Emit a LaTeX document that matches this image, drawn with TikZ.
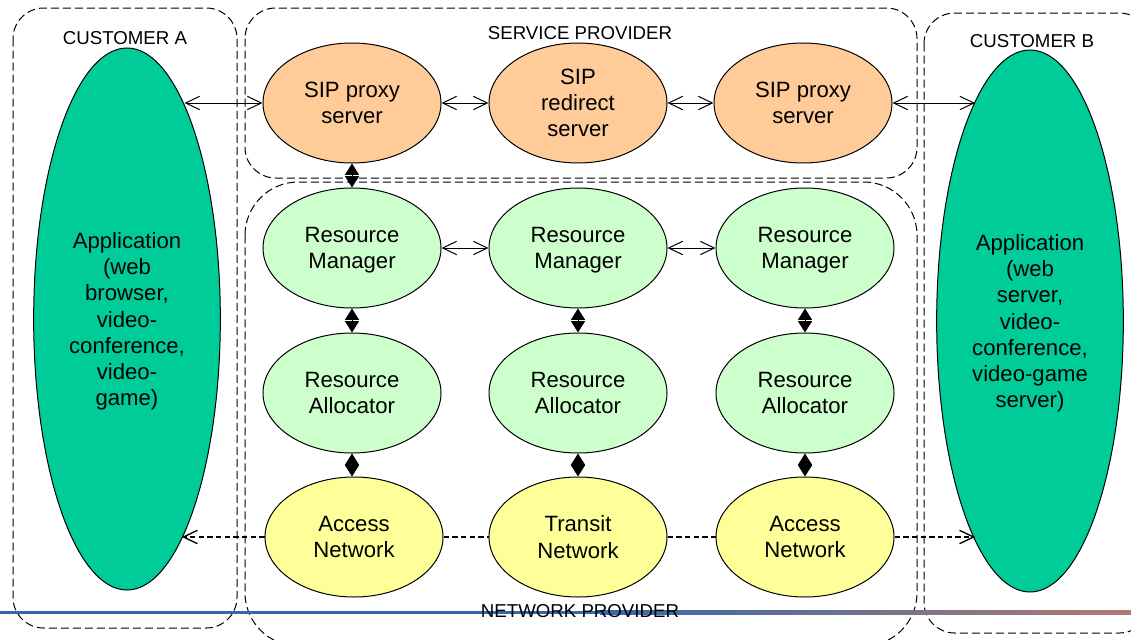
\documentclass[tikz,border=0pt]{standalone}
\usepackage{fontspec}
\setmainfont{Liberation Sans}
\usetikzlibrary{shapes.geometric,arrows.meta}

\definecolor{appgreen}{RGB}{0,204,153}
\definecolor{sipfill}{RGB}{255,204,153}
\definecolor{rmfill}{RGB}{204,255,204}
\definecolor{netfill}{RGB}{255,255,153}
\definecolor{lineblue}{RGB}{52,104,172}
\definecolor{linebrown}{RGB}{178,122,112}

\tikzset{
  region/.style={draw=black, line width=0.75pt, dash pattern=on 6pt off 3pt, rounded corners=23pt},
  bubble/.style={ellipse, draw=black, line width=0.75pt, inner sep=0pt, align=center,
                 minimum width=133.5pt, minimum height=90pt, text depth=-1.5pt,
                 font=\fontsize{16.6}{19.6}\selectfont},
  sipnode/.style={bubble, fill=sipfill},
  rmnode/.style={bubble, fill=rmfill},
  netnode/.style={bubble, fill=netfill},
  appnode/.style={bubble, fill=appgreen, minimum width=140pt, minimum height=406.5pt},
  lbl/.style={inner sep=0pt, font=\fontsize{14}{16}\selectfont},
  openarrow/.style={line width=0.75pt, {Straight Barb[length=10.5pt,width=10pt]}-{Straight Barb[length=10.5pt,width=10pt]}},
  fillarrow/.style={line width=0.75pt, {Triangle[length=8.5pt,width=10.5pt]}-{Triangle[length=8.5pt,width=10.5pt]}},
  dashline/.style={line width=1pt, dash pattern=on 4pt off 2.5pt},
  dashtip/.style={dashline, -{Straight Barb[length=10.5pt,width=10pt]}}
}

\begin{document}
\begin{tikzpicture}[x=0.75pt,y=-0.75pt]
\useasboundingbox (0,0) rectangle (1131,639);

% domain outlines
\draw[region] (13,8) rectangle (237,628);
\draw[region] (245,8) rectangle (917,178);
\draw[region, rounded corners=40pt] (245,182) rectangle (917,646);
\draw[region] (924,13) rectangle (1150,633);

% rule along the foot of the page
\fill[lineblue] (0,610.5) rectangle (602,614);
\shade[left color=lineblue, right color=linebrown] (600,610.5) rectangle (1131,614);

% domain titles
\node[lbl] (labA) at (125,38) {CUSTOMER A};
\node[lbl] (labSP) at (580,33) {SERVICE PROVIDER};
\node[lbl] (labB) at (1032,41) {CUSTOMER B};
\node[lbl] (labNP) at (580,611) {NETWORK PROVIDER};

% end-user applications
\node[appnode] (custA) at (127,319) {Application\\(web\\browser,\\video-\\conference,\\video-\\game)};
\node[appnode] (custB) at (1030,321) {Application\\(web\\server,\\video-\\conference,\\video-game\\server)};

% signalling servers
\node[sipnode] (sipA) at (352,103) {SIP proxy\\server};
\node[sipnode] (sipR) at (578,103) {SIP\\redirect\\server};
\node[sipnode] (sipB) at (803,103) {SIP proxy\\server};

% resource managers
\node[rmnode] (rmA) at (352,248) {Resource\\Manager};
\node[rmnode] (rmM) at (578,248) {Resource\\Manager};
\node[rmnode] (rmB) at (805,248) {Resource\\Manager};

% resource allocators
\node[rmnode] (raA) at (352,393) {Resource\\Allocator};
\node[rmnode] (raM) at (578,393) {Resource\\Allocator};
\node[rmnode] (raB) at (805,393) {Resource\\Allocator};

% networks
\node[netnode] (anA) at (354,537) {Access\\Network};
\node[netnode] (anT) at (578,537) {Transit\\Network};
\node[netnode] (anB) at (805,537) {Access\\Network};

% signalling path
\draw[openarrow] (sipA.west -| custA.75) -- (sipA.west);
\draw[openarrow] (sipA) -- (sipR);
\draw[openarrow] (sipR) -- (sipB);
\draw[openarrow] (sipB.east) -- (sipB.east -| custB.104);

% manager peering
\draw[openarrow] (rmA) -- (rmM);
\draw[openarrow] (rmM) -- (rmB);

% vertical control links
\draw[fillarrow] (sipA) -- (rmA);
\draw[fillarrow] (rmA) -- (raA);
\draw[fillarrow] (rmM) -- (raM);
\draw[fillarrow] (rmB) -- (raB);
\draw[fillarrow] (raA.south) -- (raA.south |- anA.north);
\draw[fillarrow] (raM) -- (anT);
\draw[fillarrow] (raB) -- (anB);

% data path
\draw[dashtip] (anA.west) -- (anA.west -| custA.-76);
\draw[dashline] (anA) -- (anT);
\draw[dashline] (anT) -- (anB);
\draw[dashtip] (anB.east) -- (anB.east -| custB.-104);
\end{tikzpicture}
\end{document}
